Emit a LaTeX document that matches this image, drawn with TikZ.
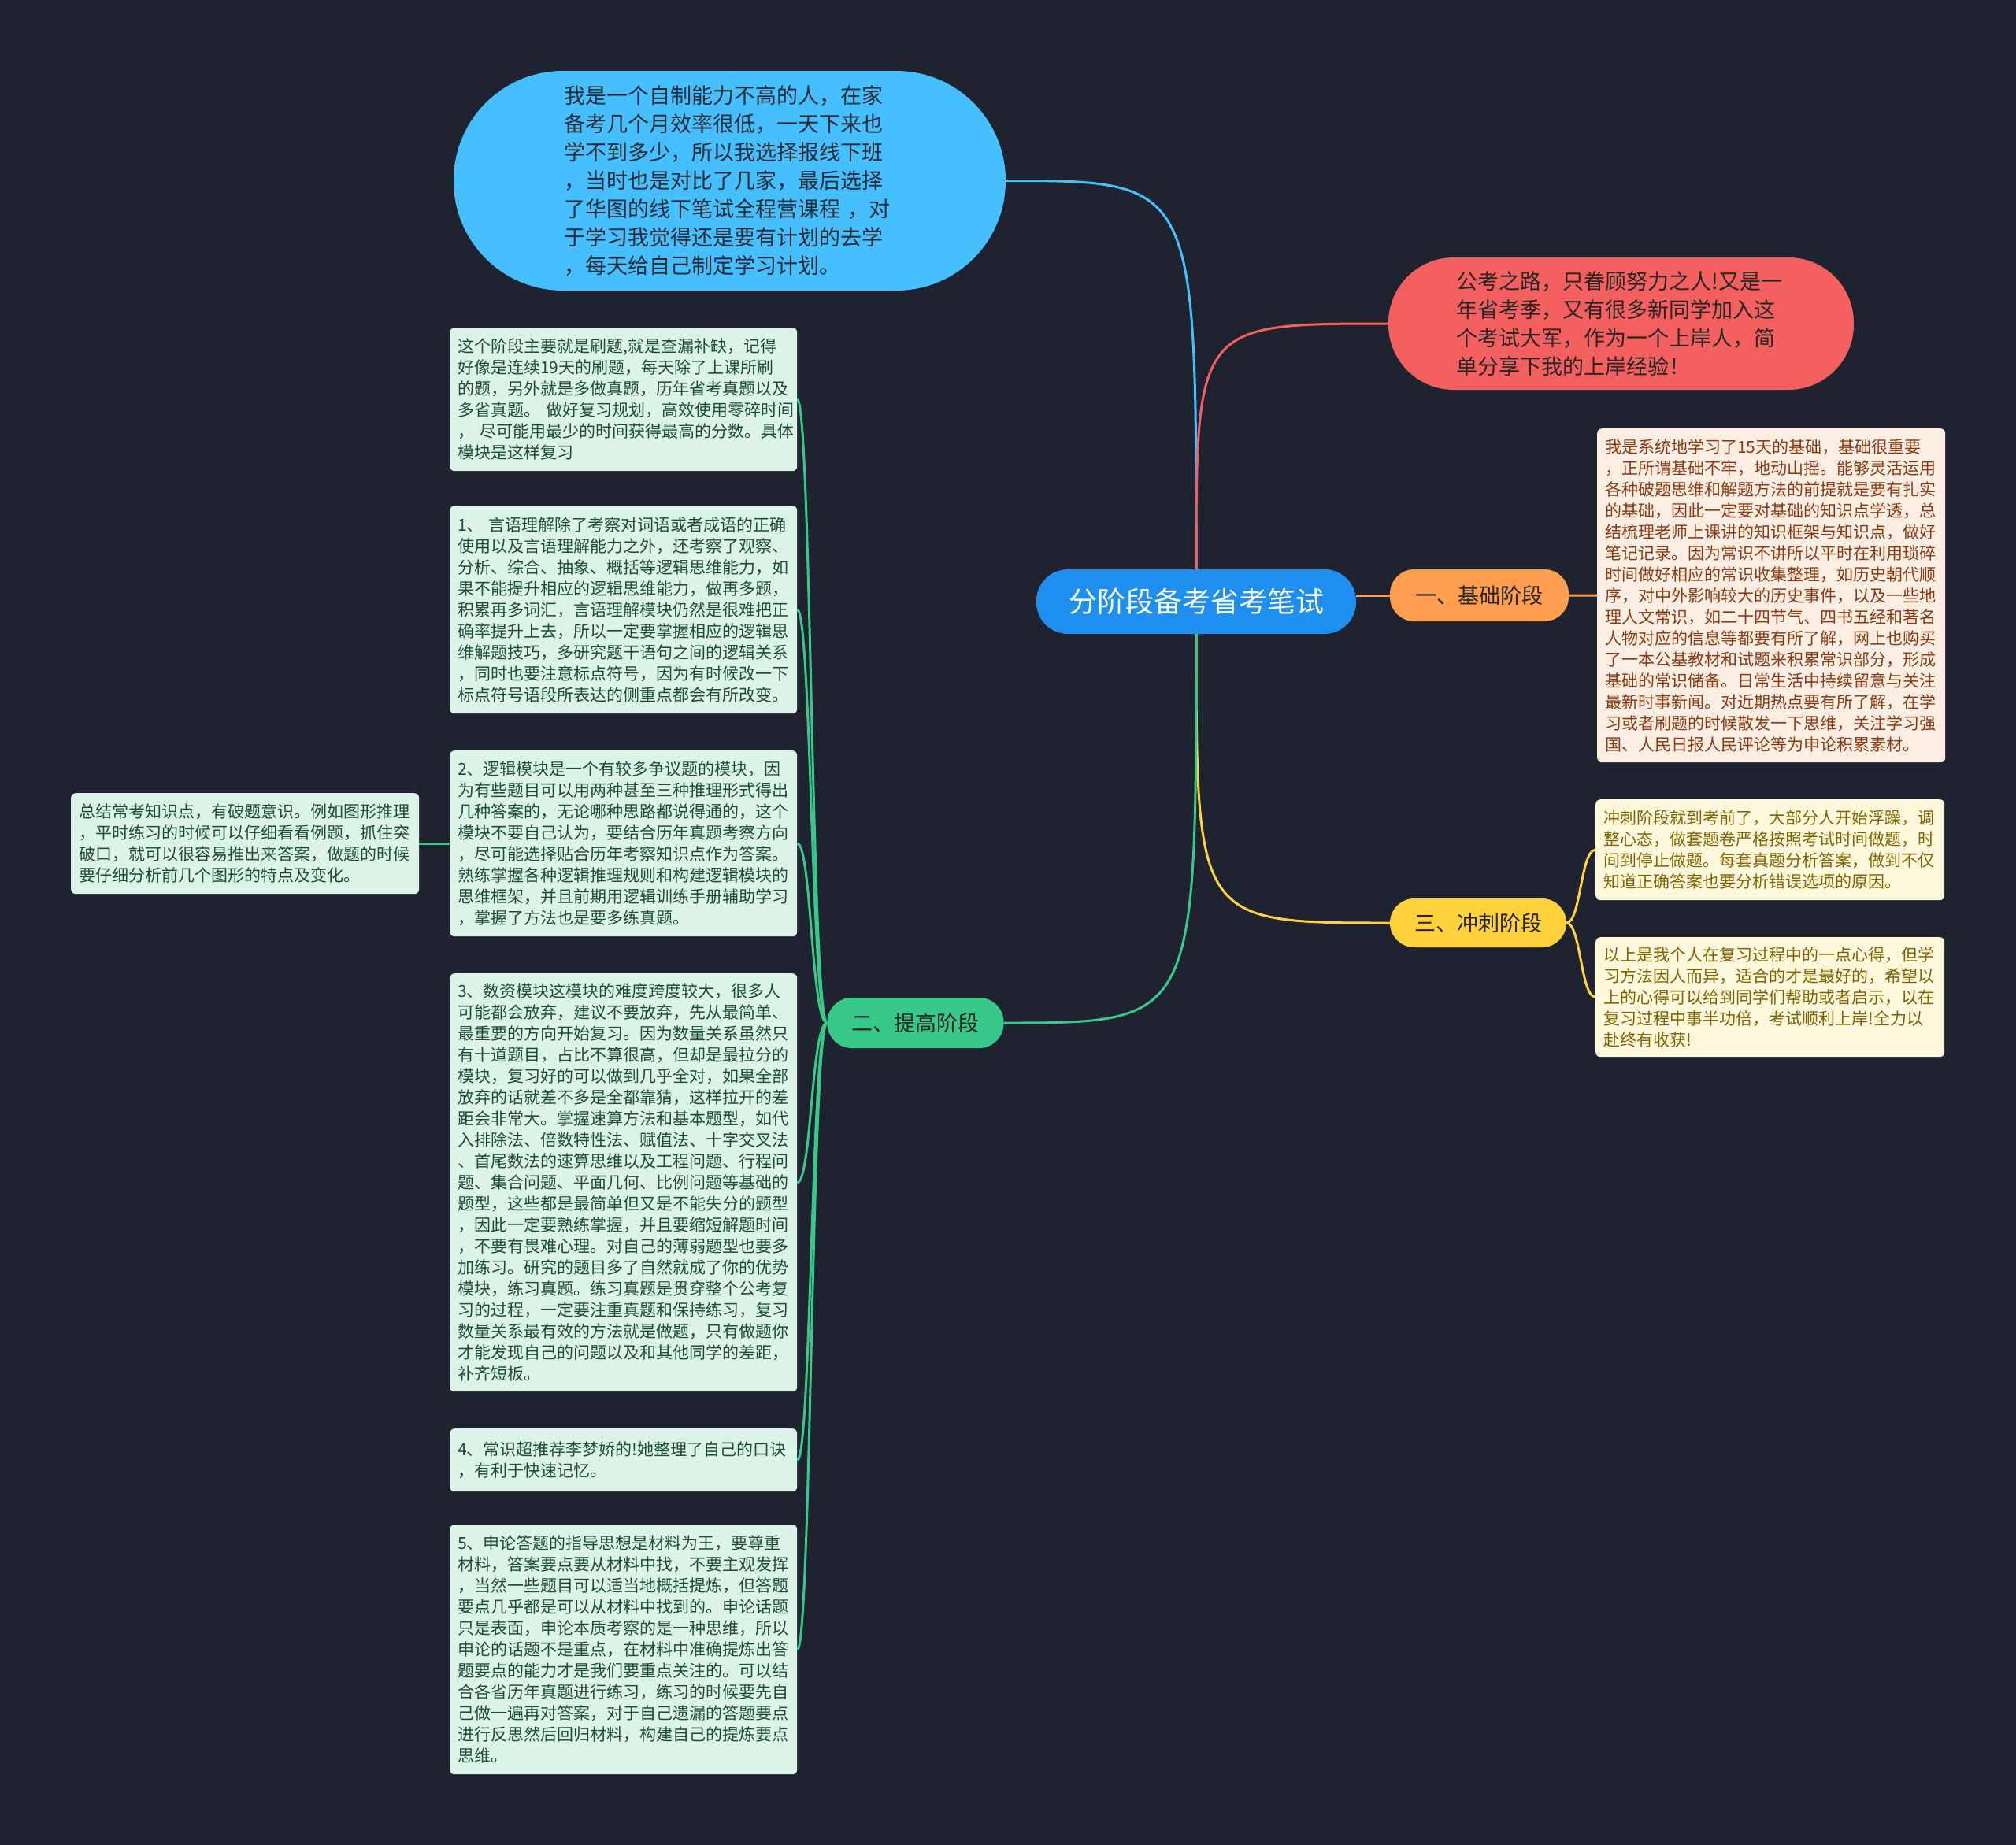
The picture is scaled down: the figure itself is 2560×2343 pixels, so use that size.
\documentclass[tikz,border=0pt]{standalone}
\usepackage{fontspec}
\setmainfont{Noto Sans CJK SC}
\pgfdeclarelayer{bgl}
\pgfdeclarelayer{lines}
\pgfsetlayers{bgl,lines,main}
\definecolor{bgc}{HTML}{1F2330}
\definecolor{bluec}{HTML}{45BFFF}
\definecolor{centc}{HTML}{1E8FEF}
\definecolor{redc}{HTML}{F46060}
\definecolor{orc}{HTML}{FF9E4F}
\definecolor{yelc}{HTML}{FFD23C}
\definecolor{grc}{HTML}{38C98A}
\definecolor{gfill}{HTML}{DCF4E8}
\definecolor{gtext}{HTML}{1E4D36}
\definecolor{ofill}{HTML}{FDEEE4}
\definecolor{otext}{HTML}{8A3B12}
\definecolor{yfill}{HTML}{FFF8DD}
\definecolor{ytext}{HTML}{7F6400}
\definecolor{darktext}{HTML}{262B36}
\tikzset{
  conn/.style={line width=3pt},
  box/.style={rounded corners=6pt, align=left, inner xsep=10pt, inner ysep=0pt,
    anchor=north west, font=\fontsize{21}{27}\selectfont},
  gbox/.style={box, fill=gfill, text=gtext},
  obox/.style={box, fill=ofill, text=otext},
  ybox/.style={box, fill=yfill, text=ytext},
  bubble/.style={align=left, inner sep=0pt, text=darktext, font=\fontsize{27}{36}\selectfont},
  lab/.style={inner sep=0pt, minimum width=224pt, minimum height=64pt, rounded corners=31pt,
    font=\fontsize{27}{32}\selectfont},
}
\begin{document}
\begin{tikzpicture}[x=1pt,y=-1pt]
\useasboundingbox (0,0) rectangle (2560,2343);
\begin{pgfonlayer}{bgl}
\fill[bgc] (0,0) rectangle (2560,2343);
\end{pgfonlayer}

% center
\node[fill=centc, text=white, rounded corners=40pt, minimum width=406pt, minimum height=82pt,
  inner sep=0pt, font=\fontsize{36}{40}\selectfont] (center) at (1519,764) {分阶段备考省考笔试};

% top bubbles
\node[bubble, fill=bluec, rounded corners=139pt, minimum width=701pt, minimum height=279pt,
  text width=420pt] (blue) at (926.5,229.5) {我是一个自制能力不高的人，在家\\备考几个月效率很低，一天下来也\\学不到多少，所以我选择报线下班\\，当时也是对比了几家，最后选择\\了华图的线下笔试全程营课程 ，对\\于学习我觉得还是要有计划的去学\\，每天给自己制定学习计划。};

\node[bubble, fill=redc, text=black!85, rounded corners=83pt, minimum width=591pt, minimum height=168pt,
  text width=418pt] (red) at (2058.5,411) {公考之路，只眷顾努力之人!又是一\\年省考季，又有很多新同学加入这\\个考试大军，作为一个上岸人，简\\单分享下我的上岸经验！};

% labels
\node[lab, fill=orc, text=black!85, minimum width=227pt, minimum height=66pt] (olab) at (1878.5,756) {一、基础阶段};
\node[lab, fill=yelc, text=black!85, minimum height=62pt] (ylab) at (1877,1172) {三、冲刺阶段};
\node[lab, fill=grc, text=black!85] (glab) at (1162.5,1299) {二、提高阶段};

% orange box
\node[obox, text width=422pt, minimum height=424pt] (o1) at (2028,544) {我是系统地学习了15天的基础，基础很重要\\，正所谓基础不牢，地动山摇。能够灵活运用\\各种破题思维和解题方法的前提就是要有扎实\\的基础，因此一定要对基础的知识点学透，总\\结梳理老师上课讲的知识框架与知识点，做好\\笔记记录。因为常识不讲所以平时在利用琐碎\\时间做好相应的常识收集整理，如历史朝代顺\\序，对中外影响较大的历史事件，以及一些地\\理人文常识，如二十四节气、四书五经和著名\\人物对应的信息等都要有所了解，网上也购买\\了一本公基教材和试题来积累常识部分，形成\\基础的常识储备。日常生活中持续留意与关注\\最新时事新闻。对近期热点要有所了解，在学\\习或者刷题的时候散发一下思维，关注学习强\\国、人民日报人民评论等为申论积累素材。};

% yellow boxes
\node[ybox, text width=423pt, minimum height=128pt] (y1) at (2026,1015) {冲刺阶段就到考前了，大部分人开始浮躁，调\\整心态，做套题卷严格按照考试时间做题，时\\间到停止做题。每套真题分析答案，做到不仅\\知道正确答案也要分析错误选项的原因。};
\node[ybox, text width=423pt, minimum height=152pt] (y2) at (2026,1190) {以上是我个人在复习过程中的一点心得，但学\\习方法因人而异，适合的才是最好的，希望以\\上的心得可以给到同学们帮助或者启示，以在\\复习过程中事半功倍，考试顺利上岸!全力以\\赴终有收获!};

% green boxes
\node[gbox, text width=421pt, minimum height=182pt] (g1) at (571,416) {这个阶段主要就是刷题,就是查漏补缺，记得\\好像是连续19天的刷题，每天除了上课所刷\\的题，另外就是多做真题，历年省考真题以及\\多省真题。 做好复习规划，高效使用零碎时间\\， 尽可能用最少的时间获得最高的分数。具体\\模块是这样复习};
\node[gbox, text width=421pt, minimum height=264pt] (g2) at (571,642) {1、 言语理解除了考察对词语或者成语的正确\\使用以及言语理解能力之外，还考察了观察、\\分析、综合、抽象、概括等逻辑思维能力，如\\果不能提升相应的逻辑思维能力，做再多题，\\积累再多词汇，言语理解模块仍然是很难把正\\确率提升上去，所以一定要掌握相应的逻辑思\\维解题技巧，多研究题干语句之间的逻辑关系\\，同时也要注意标点符号，因为有时候改一下\\标点符号语段所表达的侧重点都会有所改变。};
\node[gbox, text width=421pt, minimum height=236pt] (g3) at (571,953) {2、逻辑模块是一个有较多争议题的模块，因\\为有些题目可以用两种甚至三种推理形式得出\\几种答案的，无论哪种思路都说得通的，这个\\模块不要自己认为，要结合历年真题考察方向\\，尽可能选择贴合历年考察知识点作为答案。\\熟练掌握各种逻辑推理规则和构建逻辑模块的\\思维框架，并且前期用逻辑训练手册辅助学习\\，掌握了方法也是要多练真题。};
\node[gbox, text width=421pt, minimum height=531pt] (g4) at (571,1236) {3、数资模块这模块的难度跨度较大，很多人\\可能都会放弃，建议不要放弃，先从最简单、\\最重要的方向开始复习。因为数量关系虽然只\\有十道题目，占比不算很高，但却是最拉分的\\模块，复习好的可以做到几乎全对，如果全部\\放弃的话就差不多是全都靠猜，这样拉开的差\\距会非常大。掌握速算方法和基本题型，如代\\入排除法、倍数特性法、赋值法、十字交叉法\\、首尾数法的速算思维以及工程问题、行程问\\题、集合问题、平面几何、比例问题等基础的\\题型，这些都是最简单但又是不能失分的题型\\，因此一定要熟练掌握，并且要缩短解题时间\\，不要有畏难心理。对自己的薄弱题型也要多\\加练习。研究的题目多了自然就成了你的优势\\模块，练习真题。练习真题是贯穿整个公考复\\习的过程，一定要注重真题和保持练习，复习\\数量关系最有效的方法就是做题，只有做题你\\才能发现自己的问题以及和其他同学的差距，\\补齐短板。};
\node[gbox, text width=421pt, minimum height=80pt] (g5) at (571,1814) {4、常识超推荐李梦娇的!她整理了自己的口诀\\，有利于快速记忆。};
\node[gbox, text width=421pt, minimum height=317pt] (g6) at (571,1936) {5、申论答题的指导思想是材料为王，要尊重\\材料，答案要点要从材料中找，不要主观发挥\\，当然一些题目可以适当地概括提炼，但答题\\要点几乎都是可以从材料中找到的。申论话题\\只是表面，申论本质考察的是一种思维，所以\\申论的话题不是重点，在材料中准确提炼出答\\题要点的能力才是我们要重点关注的。可以结\\合各省历年真题进行练习，练习的时候要先自\\己做一遍再对答案，对于自己遗漏的答题要点\\进行反思然后回归材料，构建自己的提炼要点\\思维。};
\node[gbox, text width=422pt, minimum height=128pt] (g7) at (90,1007) {总结常考知识点，有破题意识。例如图形推理\\，平时练习的时候可以仔细看看例题，抓住突\\破口，就可以很容易推出来答案，做题的时候\\要仔细分析前几个图形的特点及变化。};

% connectors
\begin{pgfonlayer}{lines}
\draw[conn, bluec] (center.north) .. controls (center.north |- blue.east) .. (blue.east);
\draw[conn, redc] (center.north) .. controls (center.north |- red.west) .. (red.west);
\draw[conn, orc] (center.east |- olab.west) -- (olab.west);
\draw[conn, yelc] (center.south) .. controls (center.south |- ylab.west) .. (ylab.west);
\draw[conn, grc] (center.south) .. controls (center.south |- glab.east) .. (glab.east);
\draw[conn, orc] (olab.east) -- (o1.west);
\foreach \b in {y1,y2}
  \draw[conn, yelc] (ylab.east) .. controls ([xshift=18pt]ylab.east) and ([xshift=18pt]ylab.east |- \b.west) .. (\b.west);
\foreach \b in {g1,g2,g3,g4,g5,g6}
  \draw[conn, grc] (glab.west) .. controls ([xshift=-20pt]glab.west) and ([xshift=-20pt]glab.west |- \b.east) .. (\b.east);
\draw[conn, grc] (g3.west) -- (g7.east);
\end{pgfonlayer}
\end{tikzpicture}
\end{document}
